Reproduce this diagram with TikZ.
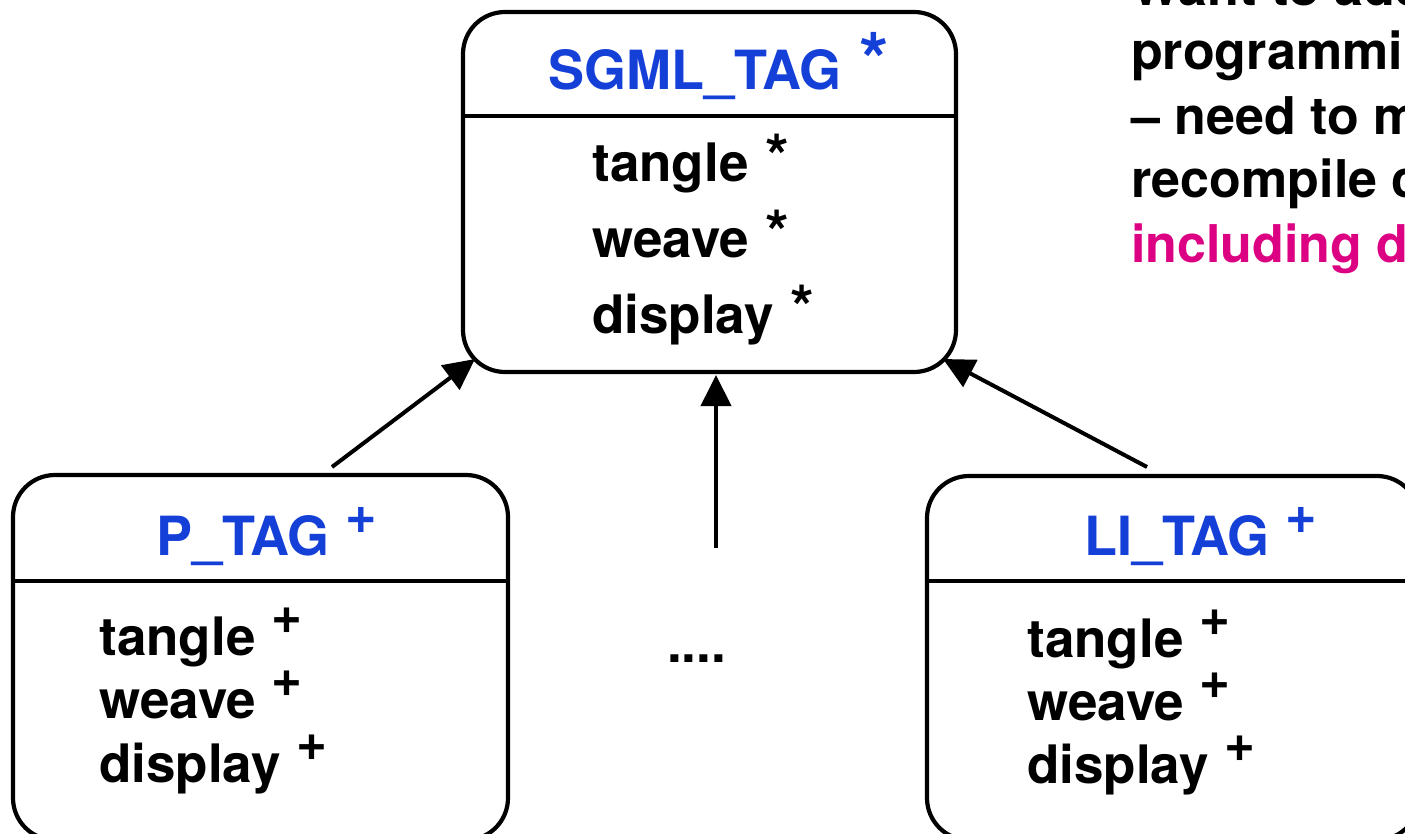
\documentclass[tikz,border=0pt]{standalone}
\usepackage{fontspec}
\setmainfont{TeX Gyre Heros}
\usetikzlibrary{arrows.meta}
\definecolor{tagblue}{RGB}{21,64,216}
\definecolor{hotpink}{RGB}{220,0,130}
\newcommand\plusmark{\ \hspace{1pt}\raisebox{22pt}{+}}
\newcommand\starmark{\ \hspace{2pt}\raisebox{3pt}{\scalebox{1.15}{*}}}
\newcommand\bigstarmark{\ \hspace{3pt}\raisebox{2pt}{\scalebox{1.4}{*}}}
\begin{document}
\begin{tikzpicture}[x=1pt,y=-1pt,
  box/.style={draw,line width=4.2pt,rounded corners=42pt,rectangle,inner sep=0pt},
  txt/.style={anchor=base west,inner sep=0pt,font=\fontsize{53}{63}\selectfont\bfseries},
  note/.style={txt,font=\fontsize{52}{62}\selectfont\bfseries},
  title/.style={txt,text=tagblue,font=\fontsize{54}{64}\selectfont\bfseries},
  arr/.style={line width=4pt,-{Triangle[length=31pt,width=30pt]}},
  divider/.style={line width=4.2pt}]
\useasboundingbox (0,0) rectangle (1405,834);
\clip (0,0) rectangle (1405,834);
% boxes
\node[box,minimum width=493pt,minimum height=360pt] (sgml) at (709.5,192) {};
\node[box,minimum width=495pt,minimum height=365pt] (ptag) at (260.5,657.5) {};
\node[box,minimum width=492pt,minimum height=364pt] (litag) at (1173,658) {};
% header dividers
\coordinate (sgmlhd) at (0,116);
\coordinate (lowhd) at (0,581);
\draw[divider] (sgml.west |- sgmlhd) -- (sgml.east |- sgmlhd);
\draw[divider] (ptag.west |- lowhd) -- (ptag.east |- lowhd);
\draw[divider] (litag.west |- lowhd) -- (litag.east |- lowhd);
% titles
\node[title] (sgmltitle) at (548,90) {SGML\_TAG\bigstarmark};
\node[title] (ptitle) at (156,555) {P\_TAG\plusmark};
\node[title] (lititle) at (1084,555) {LI\_TAG\plusmark};
% SGML methods
\node[txt] (st) at (592,182) {tangle\starmark};
\node[txt] (sw) at (592,258) {weave\starmark};
\node[txt] (sd) at (592,333) {display\starmark};
% P methods
\node[txt] (pt) at (99,655) {tangle\plusmark};
\node[txt] (pw) at (99,718) {weave\plusmark};
\node[txt] (pd) at (99,782) {display\plusmark};
% LI methods
\node[txt] (lt) at (1027,657) {tangle\plusmark};
\node[txt] (lw) at (1027,720) {weave\plusmark};
\node[txt] (ld) at (1027,783) {display\plusmark};
% ellipsis
\node[txt] (dots) at (667,662) {....};
% arrows
\coordinate (pfoot) at (332,467);
\coordinate (mfoot) at (716,548);
\coordinate (lifoot) at (1147,467);
\coordinate (sgmlL) at (475,359);
\coordinate (sgmlM) at (716,375);
\coordinate (sgmlR) at (943,359);
\draw[arr] (pfoot) -- (sgmlL);
\draw[arr] (mfoot) -- (sgmlM);
\draw[arr] (lifoot) -- (sgmlR);
% side note (cut off at the frame)
\node[note] (n1) at (1131,6) {Want to add a new};
\node[note] (n2) at (1131,70) {programming language};
\node[note] (n3) at (1131,135) {– need to modify and};
\node[note] (n4) at (1131,198) {recompile classes,};
\node[note,text=hotpink] (n5) at (1131,262) {including display};
\end{tikzpicture}
\end{document}
